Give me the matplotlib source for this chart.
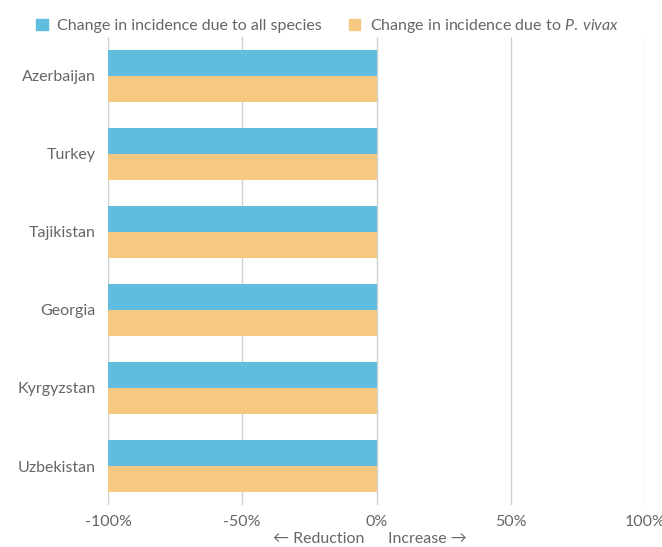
import matplotlib
matplotlib.use("Agg")
import matplotlib.pyplot as plt
import numpy as np
from matplotlib.patches import Patch

countries = ["Azerbaijan", "Turkey", "Tajikistan", "Georgia", "Kyrgyzstan", "Uzbekistan"]
all_species = [-100, -100, -100, -100, -100, -100]
p_vivax = [-100, -100, -100, -100, -100, -100]
xticks = [-100, -50, 0, 50, 100]

blue = "#60BDE0"
orange = "#F6C983"
text_col = "#666666"
grid_col = "#D0D0D0"

plt.rcParams["font.family"] = ["Lato", "DejaVu Sans"]
plt.rcParams["mathtext.fontset"] = "custom"
plt.rcParams["mathtext.it"] = "Lato:italic"
plt.rcParams["mathtext.rm"] = "Lato"

fig = plt.figure(figsize=(6.62, 5.47), dpi=100)
W, H = 662, 547
ax = fig.add_axes([108 / W, 1 - 505 / H, (645 - 108) / W, (505 - 37) / H])

y = np.arange(len(countries))
h = 0.327
ax.barh(y - h / 2, all_species, height=h, color=blue, zorder=3)
ax.barh(y + h / 2, p_vivax, height=h, color=orange, zorder=3)

ax.set_ylim(len(countries) - 0.5, -0.5)
ax.set_xlim(-100, 100)
ax.set_yticks(y)
ax.set_yticklabels(countries, fontsize=11.5, color=text_col)
ax.set_xticks(xticks)
ax.set_xticklabels([f"{v}%" for v in xticks], fontsize=11.5, color=text_col)
ax.tick_params(axis="y", length=0, pad=9)
ax.tick_params(axis="x", length=0, pad=7)
for v in xticks:
    ax.axvline(v, color=grid_col, lw=1, zorder=1)
for s in ax.spines.values():
    s.set_visible(False)

fig.text(364 / W, 1 - 539 / H, "\u2190 Reduction", ha="right", va="center",
         fontsize=11.5, color=text_col)
fig.text(388 / W, 1 - 539 / H, "Increase \u2192", ha="left", va="center",
         fontsize=11.5, color=text_col)

handles = [Patch(color=blue), Patch(color=orange)]
labels = ["Change in incidence due to all species",
          "Change in incidence due to $\\mathit{P.\\:vivax}$"]
leg = fig.legend(handles, labels, loc="upper left", bbox_to_anchor=(22 / W, 1 - 3 / H),
                 ncol=2, frameon=False, fontsize=11.5, handlelength=0.7, handleheight=0.7,
                 handletextpad=0.6, columnspacing=1.7)
for t in leg.get_texts():
    t.set_color(text_col)

fig.savefig("out.png", dpi=100)
